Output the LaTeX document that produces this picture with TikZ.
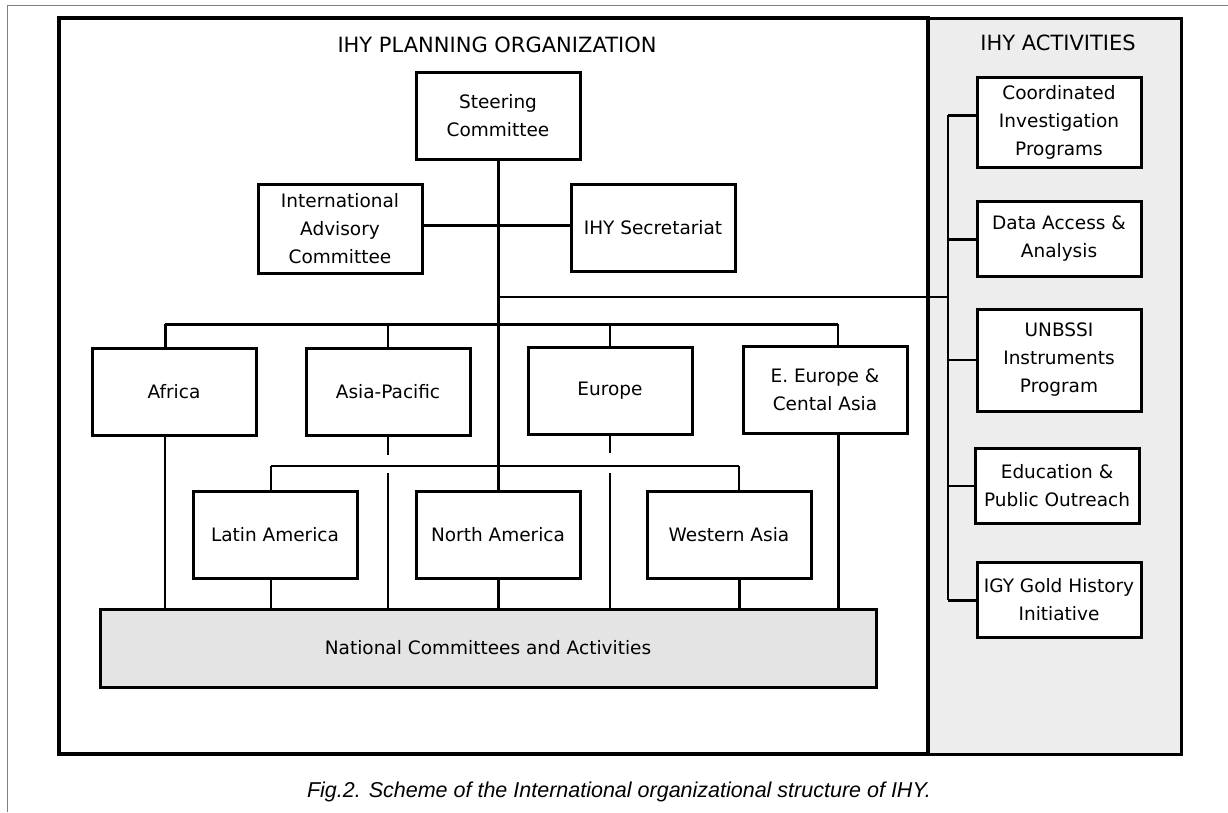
\documentclass[tikz,border=0pt]{standalone}
\usepackage{fontspec}
\setmainfont{DejaVu Sans}
\newfontfamily\capfont{Liberation Sans}
\definecolor{panelgray}{HTML}{EDEDED}
\definecolor{boxgray}{HTML}{E4E4E4}

\begin{document}
\begin{tikzpicture}[
  x=1pt, y=-1pt,
  onode/.style={rectangle, draw=black, fill=white, line width=3pt, align=center,
    inner sep=0pt, font=\fontsize{18.5}{28}\selectfont, minimum width=164pt, minimum height=87pt},
  gnode/.style={onode, fill=boxgray, minimum width=776pt, minimum height=78pt},
  tnode/.style={font=\fontsize{21}{25}\selectfont},
  tedge/.style={line width=3pt, draw=black},
  medge/.style={line width=2pt, draw=black},
  fedge/.style={line width=1.5pt, draw=black}
]
  \useasboundingbox (0,0) rectangle (1228,812);

  % Marcos
  \draw[gray, line width=1pt] (7,812) -- (7,5) -- (1228,5);
  \draw[line width=3pt, fill=panelgray] (928,18) rectangle (1181,754);
  \draw[line width=4pt] (59,18) rectangle (928,754);

  % Titulos
  \node[tnode] (tplan) at (497,45) {IHY PLANNING ORGANIZATION};
  \node[tnode] (tact) at (1058,43) {IHY ACTIVITIES};

  % Direccion
  \node[onode] (steer) at (498,116) {Steering\\Committee};
  \node[onode, minimum height=89pt] (iac) at (340,229) {International\\Advisory\\Committee};
  \node[onode] (secr) at (653,228) {IHY Secretariat};

  % Regiones, fila superior
  \node[onode] (africa) at (174,392) {Africa};
  \node[onode] (asiap) at (388,392) {Asia-Pacific};
  \node[onode] (europe) at (610,391) {Europe};
  \node[onode] (eeur) at (825,390) {E. Europe \&\\Cental Asia};

  % Regiones, fila inferior
  \node[onode] (latam) at (275,535) {Latin America};
  \node[onode] (noram) at (498,535) {North America};
  \node[onode] (wasia) at (729,535) {Western Asia};

  \node[gnode] (nca) at (488,648) {National Committees and Activities};

  % Actividades
  \node[onode, minimum height=90pt] (coord) at (1059,122) {Coordinated\\Investigation\\Programs};
  \node[onode, minimum height=75pt] (data) at (1059,239) {Data Access \&\\Analysis};
  \node[onode, minimum height=102pt] (unbssi) at (1059,360) {UNBSSI\\Instruments\\Program};
  \node[onode, minimum height=75pt] (educ) at (1057,486) {Education \&\\Public Outreach};
  \node[onode, minimum height=75pt] (igy) at (1059,600) {IGY Gold History\\Initiative};

  % Puntos de union
  \coordinate (ca) at (165,324);  % fila 2, izq
  \coordinate (ce) at (838,324);  % fila 2, der
  \coordinate (cl) at (271,466);  % fila 3, izq
  \coordinate (cw) at (739,466);  % fila 3, der
  \coordinate (hz) at (498,297);  % enlace a actividades
  \coordinate (hs) at (498,225);  % enlace consejo / secretaria
  \coordinate (rv) at (948,115);  % eje de actividades
  \coordinate (ga1) at (388,455); % cortes
  \coordinate (ga2) at (388,473);
  \coordinate (ge1) at (610,453);
  \coordinate (ge2) at (610,473);

  % Aristas de direccion
  \draw[tedge] (steer.south) -- (noram.north);
  \draw[tedge] (hs -| iac.east) -- (hs -| secr.west);
  \draw[fedge] (hz) -- (hz -| rv);

  % Fila 2
  \draw[tedge] (ca) -- (ce);
  \draw[tedge] (ca) -- (ca |- africa.north);
  \draw[fedge] (asiap.north |- ca) -- (asiap.north);
  \draw[fedge] (europe.north |- ca) -- (europe.north);
  \draw[fedge] (ce) -- (ce |- eeur.north);

  % Fila 3
  \draw[fedge] (cl) -- (cw);
  \draw[fedge] (cl) -- (cl |- latam.north);
  \draw[fedge] (cw) -- (cw |- wasia.north);

  % Hacia los comites nacionales
  \draw[fedge] (ca |- africa.south) -- (ca |- nca.north);
  \draw[fedge] (asiap.south) -- (ga1);
  \draw[fedge] (ga2) -- (ga2 |- nca.north);
  \draw[fedge] (europe.south) -- (ge1);
  \draw[fedge] (ge2) -- (ge2 |- nca.north);
  \draw[tedge] (ce |- eeur.south) -- (ce |- nca.north);
  \draw[fedge] (cl |- latam.south) -- (cl |- nca.north);
  \draw[tedge] (noram.south) -- (noram.south |- nca.north);
  \draw[tedge] (cw |- wasia.south) -- (cw |- nca.north);

  % Actividades
  \draw[medge] (rv) -- (rv |- igy.west);
  \draw[tedge] (rv) -- (rv -| coord.west);
  \draw[tedge] (rv |- data.west) -- (data.west);
  \draw[fedge] (rv |- unbssi.west) -- (unbssi.west);
  \draw[fedge] (rv |- educ.west) -- (educ.west);
  \draw[tedge] (rv |- igy.west) -- (igy.west);

  % Pie
  \node[font=\capfont\itshape\fontsize{21.5}{25}\selectfont] (cap) at (619,792)
    {Fig.2. Scheme of the International organizational structure of IHY.};
\end{tikzpicture}
\end{document}
